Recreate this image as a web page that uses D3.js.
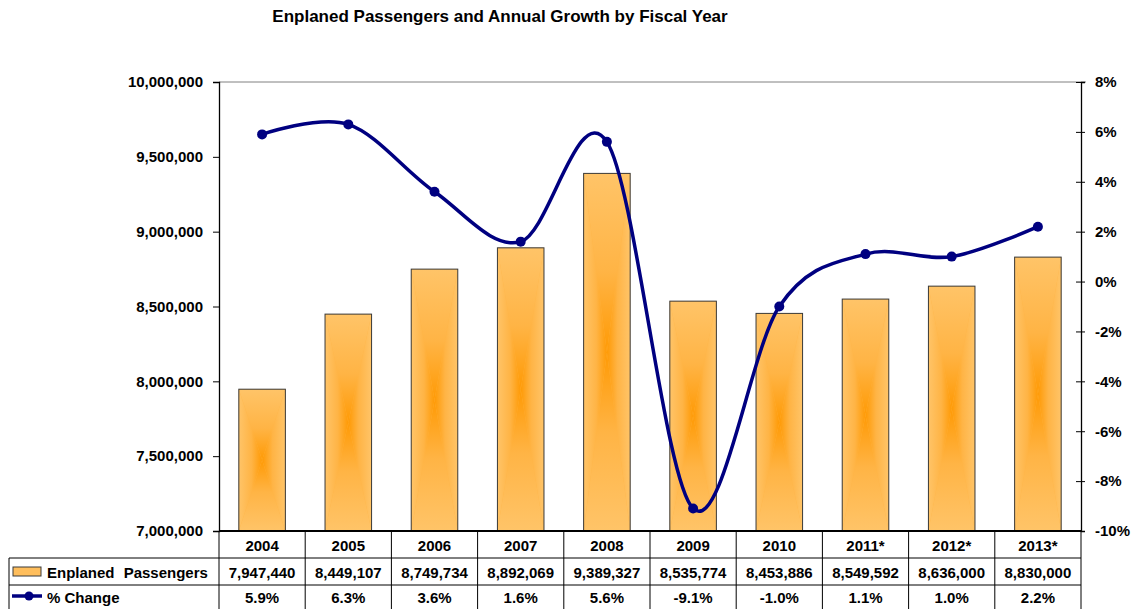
<!DOCTYPE html>
<html>
<head>
<meta charset="utf-8">
<script src="https://cdn.jsdelivr.net/npm/d3@7"></script>
<style>
  body { margin: 0; background: #fff; }
  text { font-family: "Liberation Sans", Arial, sans-serif; font-weight: bold; fill: #000; }
</style>
</head>
<body>
<svg id="chart" width="1141" height="609"></svg>
<script>
// Fiscal years (asterisk = forecast)
const years = ["2004", "2005", "2006", "2007", "2008", "2009", "2010", "2011*", "2012*", "2013*"];
// Enplaned passengers per fiscal year
const passengers = [7947440, 8449107, 8749734, 8892069, 9389327, 8535774, 8453886, 8549592, 8636000, 8830000];
// Annual growth, percent
const pctChange = [5.9, 6.3, 3.6, 1.6, 5.6, -9.1, -1.0, 1.1, 1.0, 2.2];
// Axis ticks
const passengerTicks = [7000000, 7500000, 8000000, 8500000, 9000000, 9500000, 10000000];
const pctTicks = [-10, -8, -6, -4, -2, 0, 2, 4, 6, 8];

const plot = { left: 219, right: 1081, top: 82, bottom: 531 };
const rows = { header: 531, pass: 558, pct: 585, end: 612 };
const tableLeft = 9;

const svg = d3.select("#chart");

const x = d3.scaleBand().domain(years)
  .range([plot.left, plot.right])
  .paddingInner(0.46).paddingOuter(0.23);
const yL = d3.scaleLinear().domain([7000000, 10000000]).range([plot.bottom, plot.top]);
const yR = d3.scaleLinear().domain([-10, 8]).range([plot.bottom, plot.top]);

const fmtNum = d3.format(",");
const fmtPct = d => d.toFixed(1) + "%";

// ---- gradients for the "from centre" bar fill ----
const defs = svg.append("defs");
const edge = "#ffc468", mid = "#ffb445", core = "#ff9a05";
function grad(id, x1, y1, x2, y2) {
  const g = defs.append("linearGradient").attr("id", id)
    .attr("x1", x1).attr("y1", y1).attr("x2", x2).attr("y2", y2);
  const stops = [[0, edge], [0.55, mid], [1, core]];
  stops.forEach(([o, c]) => g.append("stop").attr("offset", o).attr("stop-color", c));
}
grad("gTop", 0, 0, 0, 1);
grad("gBottom", 0, 1, 0, 0);
grad("gLeft", 0, 0, 1, 0);
grad("gRight", 1, 0, 0, 0);

// ---- plot frame ----
svg.append("line")
  .attr("x1", plot.left).attr("x2", plot.right + 5)
  .attr("y1", plot.top).attr("y2", plot.top)
  .attr("stroke", "#808080").attr("stroke-width", 1);

// ---- bars ----
const barData = years.map((y, i) => ({ year: y, v: passengers[i] }));
const bars = svg.append("g").selectAll("g").data(barData).join("g");
bars.each(function (d) {
  const g = d3.select(this);
  const x0 = x(d.year), x1 = x0 + x.bandwidth();
  const y0 = yL(d.v), y1 = yL(7000000);
  const cx = (x0 + x1) / 2, cy = (y0 + y1) / 2;
  g.append("rect").attr("x", x0).attr("y", y0).attr("width", x1 - x0).attr("height", y1 - y0)
    .attr("fill", mid);
  const tri = (pts, id) => g.append("path")
    .attr("d", "M" + pts.map(p => p.join(",")).join("L") + "Z")
    .attr("fill", `url(#${id})`);
  tri([[x0, y0], [x1, y0], [cx, cy]], "gTop");
  tri([[x0, y1], [x1, y1], [cx, cy]], "gBottom");
  tri([[x0, y0], [x0, y1], [cx, cy]], "gLeft");
  tri([[x1, y0], [x1, y1], [cx, cy]], "gRight");
  g.append("rect").attr("x", x0).attr("y", y0).attr("width", x1 - x0).attr("height", y1 - y0)
    .attr("fill", "none").attr("stroke", "#3a3a3a").attr("stroke-width", 1);
});

// ---- left axis ----
const axL = svg.append("g").attr("transform", `translate(${plot.left},0)`)
  .call(d3.axisLeft(yL).tickValues(passengerTicks).tickFormat(fmtNum).tickSize(6).tickPadding(10));
axL.select(".domain").attr("stroke", "#000").attr("stroke-width", 1.3);
axL.selectAll(".tick line").attr("stroke", "#000").attr("x2", -6).attr("x1", 1);
axL.selectAll(".tick text").style("font-size", "15px").attr("fill", "#000");

// ---- right axis ----
const axR = svg.append("g").attr("transform", `translate(${plot.right},0)`)
  .call(d3.axisRight(yR).tickValues(pctTicks).tickFormat(d => d + "%").tickSize(4).tickPadding(10));
axR.select(".domain").attr("stroke", "#000").attr("stroke-width", 1.3);
axR.selectAll(".tick line").attr("stroke", "#000").attr("x1", -5).attr("x2", 4);
axR.selectAll(".tick text").style("font-size", "15px").attr("fill", "#000");
axL.attr("font-family", null).attr("font-size", null);
axR.attr("font-family", null).attr("font-size", null);

// ---- data table ----
const tbl = svg.append("g");
const step = x.step();
const colEdges = d3.range(years.length + 1).map(i => plot.left + i * step);
const lineAttr = sel => sel.attr("stroke", "#000").attr("stroke-width", 1);

// horizontal rules
lineAttr(tbl.append("line").attr("x1", tableLeft).attr("x2", plot.right).attr("y1", rows.pass).attr("y2", rows.pass));
lineAttr(tbl.append("line").attr("x1", tableLeft).attr("x2", plot.right).attr("y1", rows.pct).attr("y2", rows.pct));
lineAttr(tbl.append("line").attr("x1", tableLeft).attr("x2", plot.right).attr("y1", rows.end).attr("y2", rows.end));
// vertical rules
colEdges.forEach(cx => lineAttr(tbl.append("line").attr("x1", cx).attr("x2", cx).attr("y1", rows.header).attr("y2", rows.end)));
lineAttr(tbl.append("line").attr("x1", tableLeft).attr("x2", tableLeft).attr("y1", rows.pass).attr("y2", rows.end));

// bottom axis line (drawn over table top)
svg.append("line").attr("x1", plot.left).attr("x2", plot.right).attr("y1", plot.bottom).attr("y2", plot.bottom)
  .attr("stroke", "#000").attr("stroke-width", 2);

const cellText = (row, arr, fmt) => tbl.append("g").selectAll("text").data(arr).join("text")
  .attr("x", (d, i) => x(years[i]) + x.bandwidth() / 2)
  .attr("y", row)
  .attr("text-anchor", "middle")
  .attr("dominant-baseline", "central")
  .style("font-size", "15px")
  .text(fmt);
cellText((rows.header + rows.pass) / 2 + 1, years, d => d);
cellText((rows.pass + rows.pct) / 2 + 1, passengers, d => fmtNum(d));
cellText((rows.pct + 609) / 2, pctChange, fmtPct);

// legend keys inside the table
const lg = svg.append("g");
lg.append("rect").attr("x", 13).attr("y", 567).attr("width", 28).attr("height", 9)
  .attr("fill", "#ffbe5c").attr("stroke", "#3a3a3a").attr("stroke-width", 1);
lg.append("text").attr("x", 47).attr("y", (rows.pass + rows.pct) / 2 + 1)
  .attr("dominant-baseline", "central").style("font-size", "15px").style("word-spacing", "5px")
  .text("Enplaned Passengers");
lg.append("line").attr("x1", 12).attr("x2", 42).attr("y1", 596).attr("y2", 596)
  .attr("stroke", "#000080").attr("stroke-width", 3.5);
lg.append("circle").attr("cx", 29).attr("cy", 596).attr("r", 4.5).attr("fill", "#000080");
lg.append("text").attr("x", 47).attr("y", (rows.pct + 609) / 2)
  .attr("dominant-baseline", "central").style("font-size", "15px")
  .text("% Change");

// ---- growth line ----
const pts = years.map((y, i) => ({ year: y, v: pctChange[i] }));
const line = d3.line()
  .x(d => x(d.year) + x.bandwidth() / 2)
  .y(d => yR(d.v))
  .curve(d3.curveCardinal.tension(0));
svg.append("path").datum(pts).attr("d", line)
  .attr("fill", "none").attr("stroke", "#000080").attr("stroke-width", 3.5)
  .attr("stroke-linejoin", "round");
svg.append("g").selectAll("circle").data(pts).join("circle")
  .attr("cx", d => x(d.year) + x.bandwidth() / 2)
  .attr("cy", d => yR(d.v))
  .attr("r", 5).attr("fill", "#000080");

// ---- title ----
svg.append("text").attr("x", 500).attr("y", 22).attr("text-anchor", "middle")
  .style("font-size", "17px")
  .text("Enplaned Passengers and Annual Growth by Fiscal Year");
</script>
</body>
</html>
